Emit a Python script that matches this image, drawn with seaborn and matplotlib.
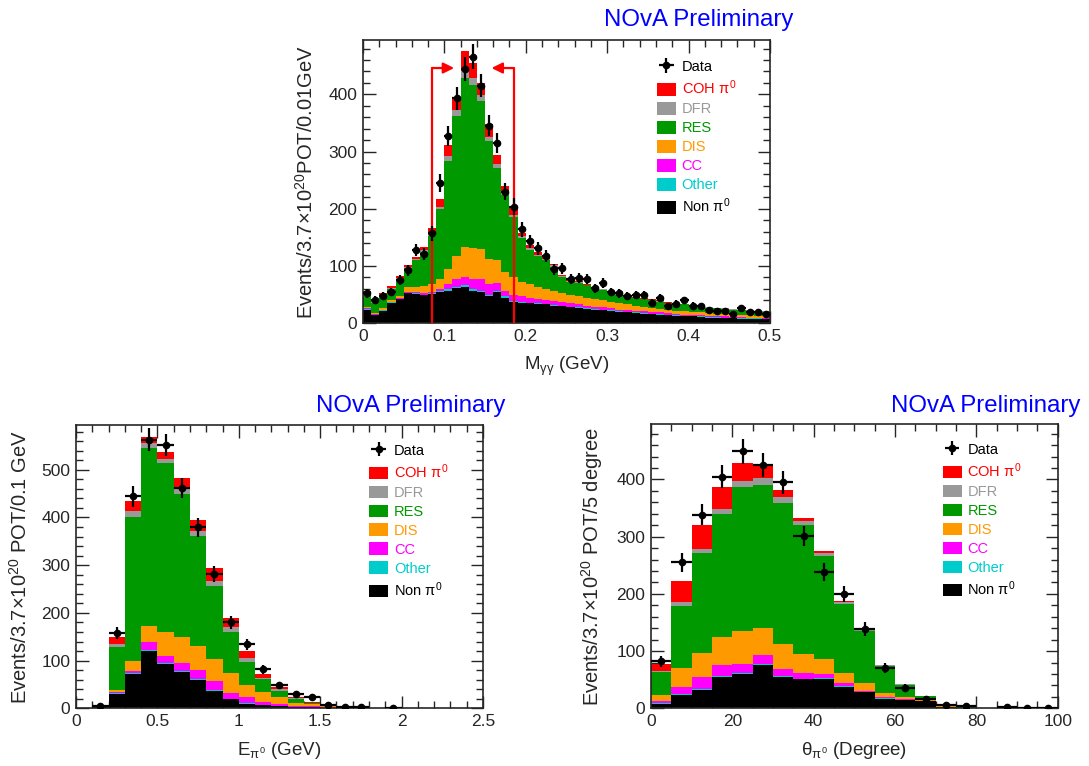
import matplotlib
matplotlib.use('Agg')
import matplotlib.pyplot as plt
from matplotlib.patches import Patch
from matplotlib.ticker import MultipleLocator
import seaborn as sns
import numpy as np
import pandas as pd

# --- M_gg panel (0.01 GeV bins, 0 - 0.5) ---
mgg_data = [52, 41, 48, 55, 76, 93, 128, 121, 157, 245, 327, 393, 444, 466, 415, 345, 315, 230, 204, 164,
            143, 131, 117, 94, 96, 77, 79, 77, 61, 70, 55, 52, 47, 50, 50, 36, 45, 30, 34, 40,
            31, 30, 24, 22, 22, 16, 26, 19, 19, 16]
mgg_nonpi0 = [24, 14, 22, 36, 42, 52, 51, 49, 51, 54, 57, 61, 64, 57, 55, 48, 54, 45, 38, 36,
              35, 34, 33, 31, 30, 28, 27, 25, 24, 23, 22, 20, 19, 18, 17, 16, 15, 14, 13, 12,
              12, 11, 10, 10, 9, 9, 8, 8, 8, 7]
mgg_other = [1, 1, 1, 1, 1, 1, 1, 1, 1, 2, 2, 2, 2, 2, 2, 2, 2, 2, 1, 1,
             1, 1, 1, 1, 1, 1, 1, 1, 1, 1, 1, 1, 1, 1, 1, 1, 1, 1, 1, 1,
             1, 1, 1, 1, 1, 1, 1, 1, 1, 1]
mgg_cc = [1, 1, 1, 1, 1, 2, 2, 2, 3, 4, 10, 14, 14, 18, 20, 19, 15, 10, 11, 10,
          9, 8, 7, 7, 6, 6, 5, 5, 4, 4, 3, 3, 3, 3, 3, 3, 3, 3, 2, 2,
          2, 2, 2, 2, 2, 1, 2, 1, 1, 1]
mgg_dis = [2, 2, 2, 2, 3, 8, 10, 13, 13, 18, 26, 41, 53, 55, 53, 44, 40, 33, 30, 25,
           23, 20, 19, 17, 16, 15, 14, 13, 13, 12, 11, 11, 10, 9, 8, 7, 6, 6, 6, 6,
           5, 5, 5, 4, 4, 4, 3, 4, 3, 4]
mgg_res = [24, 17, 21, 20, 30, 33, 46, 60, 84, 122, 188, 244, 295, 284, 258, 205, 161, 134, 106, 77,
           60, 55, 50, 43, 28, 22, 24, 22, 19, 18, 16, 15, 13, 13, 13, 13, 13, 11, 12, 12,
           11, 10, 9, 9, 9, 9, 9, 8, 8, 7]
mgg_dfr = [2, 2, 2, 2, 2, 2, 2, 3, 2, 4, 9, 10, 12, 12, 10, 8, 6, 4, 3, 3,
           3, 2, 2, 2, 2, 1, 1, 1, 1, 1, 1, 1, 1, 1, 1, 1, 1, 1, 1, 1,
           1, 1, 1, 1, 1, 1, 1, 1, 1, 1]
mgg_coh = [3, 3, 3, 3, 4, 4, 4, 5, 12, 14, 20, 21, 35, 27, 22, 22, 16, 11, 12, 6,
           5, 4, 3, 2, 2, 2, 1, 1, 1, 1, 1, 1, 1, 1, 1, 1, 1, 1, 0, 0,
           0, 0, 0, 0, 0, 0, 0, 0, 0, 0]
# selection window drawn as red arrows
mgg_cut_low = 0.085
mgg_cut_high = 0.185
mgg_arrow_y = 446
mgg_arrow_tip_low = 0.112
mgg_arrow_tip_high = 0.158

# --- E_pi0 panel (0.1 GeV bins, 0 - 2.5) ---
epi_data = [0, 5, 157, 444, 563, 552, 462, 379, 282, 180, 134, 82, 48, 30, 24, 8, 3, 2, 0, 1, 0, 0, 0, 0, 0]
epi_nonpi0 = [0, 2, 31, 72, 120, 92, 76, 59, 37, 19, 10, 7, 5, 3, 2, 1, 1, 1, 1, 0, 0, 0, 0, 0, 0]
epi_other = [0, 0, 1, 2, 2, 2, 3, 2, 2, 1, 1, 0, 0, 0, 0, 0, 0, 0, 0, 0, 0, 0, 0, 0, 0]
epi_cc = [0, 0, 2, 5, 16, 16, 17, 19, 18, 13, 12, 7, 4, 2, 2, 1, 0, 0, 0, 0, 0, 0, 0, 0, 0]
epi_dis = [0, 0, 4, 20, 35, 50, 54, 51, 46, 40, 25, 20, 15, 7, 5, 3, 1, 1, 0, 0, 0, 0, 0, 0, 0]
epi_res = [0, 2, 91, 303, 372, 355, 300, 231, 154, 88, 50, 27, 12, 7, 2, 1, 1, 0, 0, 0, 0, 0, 0, 0, 0]
epi_dfr = [0, 0, 6, 11, 11, 7, 9, 9, 10, 10, 7, 3, 4, 2, 1, 0, 0, 0, 0, 0, 0, 0, 0, 0, 0]
epi_coh = [0, 1, 15, 22, 12, 15, 24, 24, 27, 18, 15, 7, 5, 3, 1, 1, 0, 0, 0, 0, 0, 0, 0, 0, 0]

# --- theta_pi0 panel (5 degree bins, 0 - 100) ---
th_data = [82, 255, 338, 405, 449, 425, 395, 301, 238, 200, 139, 70, 36, 17, 6, 4, 0, 2, 1, 1]
th_nonpi0 = [8, 24, 32, 54, 60, 75, 54, 51, 52, 38, 28, 17, 15, 12, 3, 1, 1, 1, 0, 0]
th_other = [2, 1, 1, 2, 2, 2, 2, 1, 1, 1, 1, 1, 0, 0, 0, 0, 0, 0, 0, 0]
th_cc = [3, 13, 21, 19, 15, 16, 12, 9, 7, 5, 2, 2, 2, 1, 0, 0, 0, 0, 0, 0]
th_dis = [10, 32, 42, 50, 58, 48, 44, 34, 26, 17, 13, 7, 2, 2, 1, 0, 0, 0, 0, 0]
th_res = [40, 109, 176, 214, 251, 250, 247, 225, 181, 122, 92, 47, 22, 7, 4, 2, 0, 0, 0, 0]
th_dfr = [3, 7, 7, 10, 12, 12, 10, 7, 5, 3, 2, 1, 1, 0, 0, 0, 0, 0, 0, 0]
th_coh = [11, 36, 42, 37, 30, 24, 12, 6, 3, 1, 1, 1, 0, 0, 0, 0, 0, 0, 0, 0]

# stacking order: first entry drawn on top
comp_names = ['COH $\\pi^{0}$', 'DFR', 'RES', 'DIS', 'CC', 'Other', 'Non $\\pi^{0}$']
comp_colors = ['#ff0000', '#999999', '#009900', '#ff9900', '#ff00ff', '#00cccc', '#000000']

sns.set_style('ticks')
plt.rcParams['font.family'] = ['Liberation Sans', 'DejaVu Sans']
plt.rcParams['mathtext.fontset'] = 'custom'
plt.rcParams['mathtext.rm'] = 'Liberation Sans'
plt.rcParams['mathtext.it'] = 'Liberation Sans'
plt.rcParams['axes.linewidth'] = 1.2


def draw_panel(ax, edges, comps, data, xlabel, ylabel, ymax, xmajor, xminor, leg_x, leg_y):
    centers = (edges[:-1] + edges[1:]) / 2
    frames = []
    for name, vals in zip(comp_names, comps):
        frames.append(pd.DataFrame({'x': centers, 'w': vals, 'comp': name}))
    df = pd.concat(frames, ignore_index=True)
    sns.histplot(data=df, x='x', weights='w', hue='comp', hue_order=comp_names,
                 palette=dict(zip(comp_names, comp_colors)), multiple='stack', bins=list(edges),
                 element='step', fill=True, alpha=1, linewidth=0, legend=False, ax=ax)

    data = np.array(data, dtype=float)
    mask = data > 0
    half = (edges[1] - edges[0]) / 2
    eb = ax.errorbar(centers[mask], data[mask], xerr=half, yerr=np.sqrt(data[mask]),
                     fmt='o', color='black', ms=4.5, elinewidth=1.6, capsize=0, zorder=10)

    ax.set_xlim(edges[0], edges[-1])
    ax.set_ylim(0, ymax)
    ax.set_xlabel(xlabel, fontsize=13.5, labelpad=8)
    ax.set_ylabel(ylabel, fontsize=14.5, labelpad=8)
    ax.xaxis.set_major_locator(MultipleLocator(xmajor))
    ax.xaxis.set_minor_locator(MultipleLocator(xminor))
    ax.yaxis.set_major_locator(MultipleLocator(100))
    ax.yaxis.set_minor_locator(MultipleLocator(20))
    ax.tick_params(which='both', direction='in', top=True, right=True, labelsize=12.5, width=1)
    ax.tick_params(which='major', length=9, pad=4)
    ax.tick_params(which='minor', length=5)
    ax.xaxis.set_major_formatter(matplotlib.ticker.FuncFormatter(lambda v, p: ('%g' % v)))

    handles = [eb] + [Patch(facecolor=c, edgecolor='none') for c in comp_colors]
    labels = ['Data'] + comp_names
    leg = ax.legend(handles, labels, loc='upper left', bbox_to_anchor=(leg_x, leg_y),
                    frameon=False, fontsize=10.5, handlelength=1.3, handleheight=0.95,
                    labelspacing=0.32, handletextpad=0.4, borderpad=0, borderaxespad=0)
    for txt, c in zip(leg.get_texts(), ['#000000'] + comp_colors):
        txt.set_color(c)
    return ax


fig = plt.figure(figsize=(10.89, 7.66), dpi=100)

ax_top = fig.add_axes([0.3333, 0.5780, 0.3737, 0.3698])
draw_panel(ax_top, np.linspace(0, 0.5, 51),
           [mgg_coh, mgg_dfr, mgg_res, mgg_dis, mgg_cc, mgg_other, mgg_nonpi0], mgg_data,
           'M$_{\\gamma\\gamma}$ (GeV)', 'Events/3.7$\\times$10$^{20}$POT/0.01GeV',
           495, 0.1, 0.02, 0.722, 0.93)
# red selection arrows
for cut, tip in [(mgg_cut_low, mgg_arrow_tip_low), (mgg_cut_high, mgg_arrow_tip_high)]:
    ax_top.plot([cut, cut], [0, mgg_arrow_y], color='red', lw=1.6, zorder=5)
    ax_top.annotate('', xy=(tip, mgg_arrow_y), xytext=(cut, mgg_arrow_y),
                    arrowprops=dict(arrowstyle='-|>', color='red', lw=1.6,
                                    mutation_scale=16, shrinkA=0, shrinkB=0), zorder=5)

ax_bl = fig.add_axes([0.0698, 0.0753, 0.3737, 0.3700])
draw_panel(ax_bl, np.linspace(0, 2.5, 26),
           [epi_coh, epi_dfr, epi_res, epi_dis, epi_cc, epi_other, epi_nonpi0], epi_data,
           'E$_{\\pi^{0}}$ (GeV)', 'Events/3.7$\\times$10$^{20}$ POT/0.1 GeV',
           594, 0.5, 0.1, 0.72, 0.935)

ax_br = fig.add_axes([0.5978, 0.0753, 0.3735, 0.3712])
draw_panel(ax_br, np.linspace(0, 100, 21),
           [th_coh, th_dfr, th_res, th_dis, th_cc, th_other, th_nonpi0], th_data,
           '$\\theta_{\\pi^{0}}$ (Degree)', 'Events/3.7$\\times$10$^{20}$ POT/5 degree',
           497, 20, 5, 0.717, 0.935)

title_kw = dict(color='#0000ff', fontsize=17.3, ha='right', va='baseline')
fig.text(793 / 1089, 1 - 26 / 766, 'NOvA Preliminary', **title_kw)
fig.text(505 / 1089, 1 - 412 / 766, 'NOvA Preliminary', **title_kw)
fig.text(1080 / 1089, 1 - 412 / 766, 'NOvA Preliminary', **title_kw)

fig.savefig('out.png', dpi=100)
